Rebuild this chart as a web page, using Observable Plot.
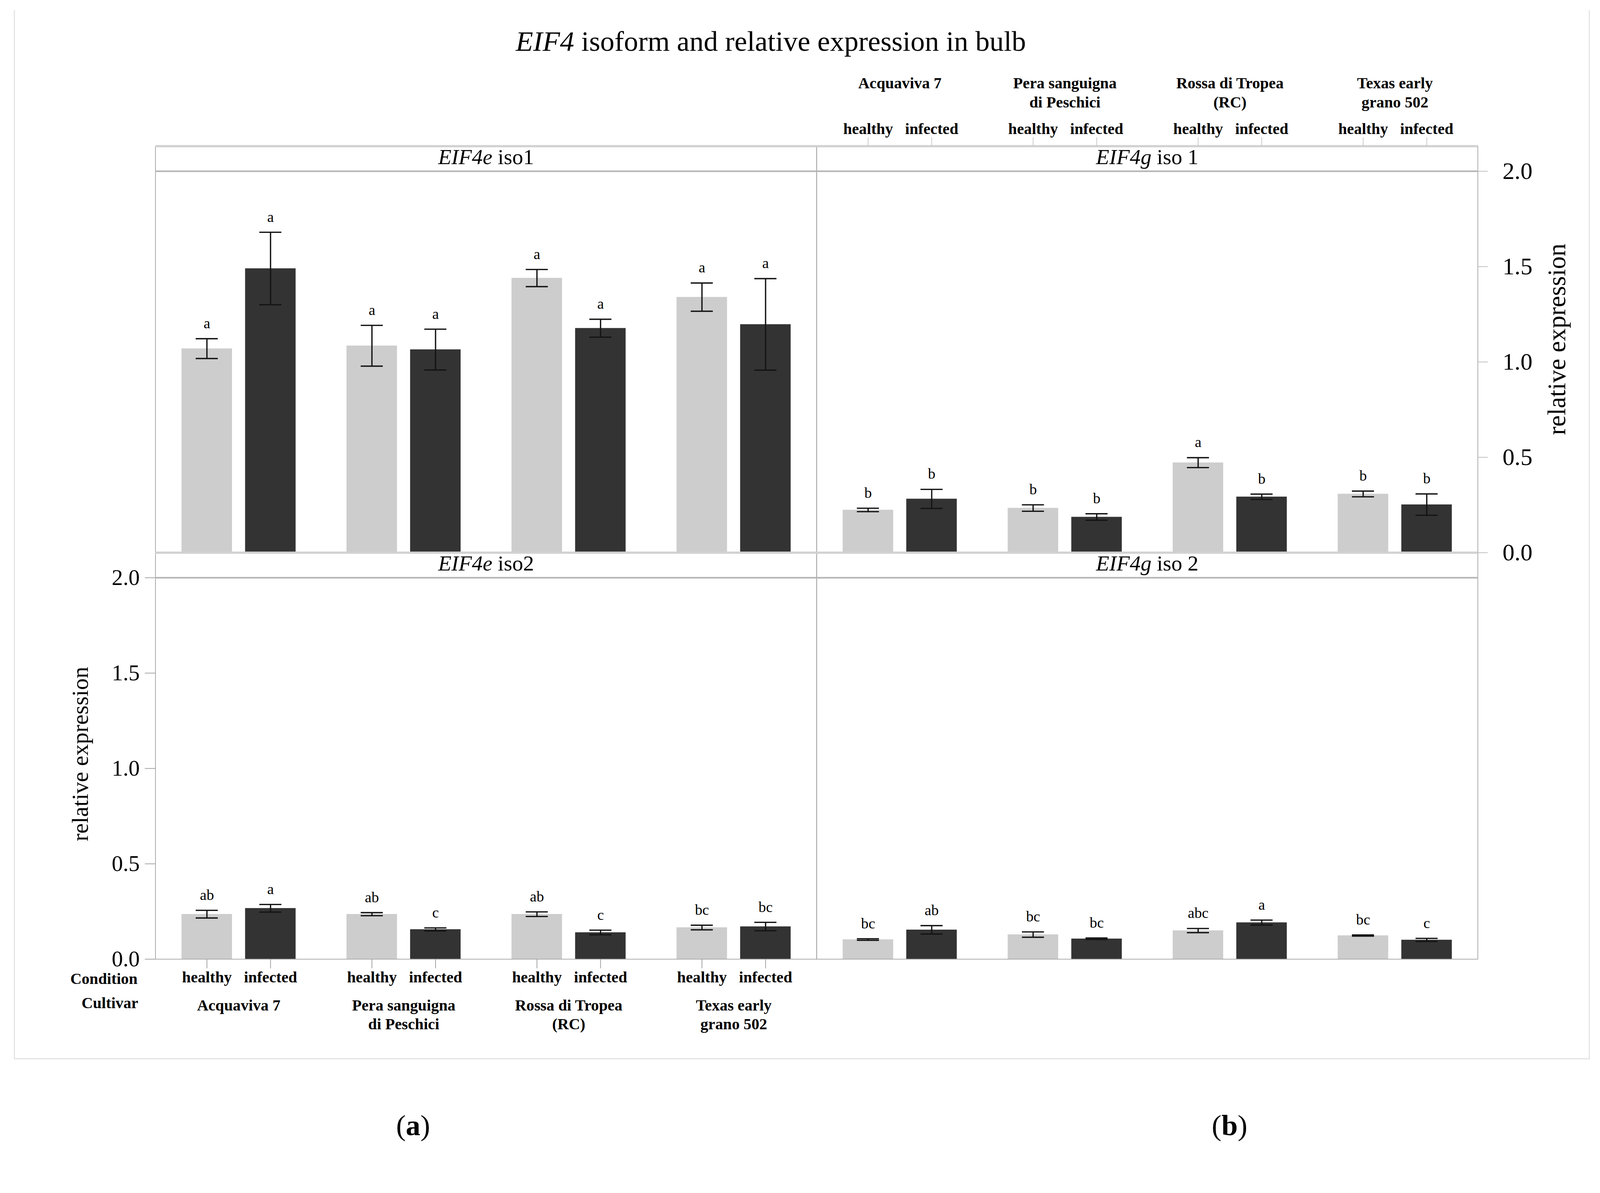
<!DOCTYPE html>
<html>
<head>
<meta charset="utf-8">
<script src="https://cdn.jsdelivr.net/npm/d3@7"></script>
<script src="https://cdn.jsdelivr.net/npm/@observablehq/plot@0.6"></script>
<style>
html, body { margin: 0; padding: 0; background: #fff; overflow: hidden; }
#wrap { position: relative; overflow: hidden; width: 4096px; height: 3053px; }
#page { position: absolute; left: 0; top: 0; width: 4276px; height: 3053px; transform-origin: 0 0; font-family: "Liberation Serif", "Times New Roman", serif; color: #000; overflow: hidden; background: #fff; }
#border { position: absolute; left: 37px; top: 27px; width: 4206px; height: 2800px; border: 3px solid #e3e3e3; border-top: none; }
#chart { position: absolute; left: 0; top: 0; }
#title { position: absolute; left: 0; width: 4120px; top: 72px; text-align: center; font-size: 76px; line-height: 1; white-space: nowrap; }
.sub { position: absolute; top: 2968px; width: 200px; text-align: center; font-size: 78px; line-height: 1; }
</style>
</head>
<body>
<div id="wrap">
<div id="page">
  <div id="border"></div>
  <div id="chart"></div>
  <div id="title"><i>EIF4</i> isoform and relative expression in bulb</div>
  <div class="sub" style="left:1004px">(<b>a</b>)</div>
  <div class="sub" style="left:3186px">(<b>b</b>)</div>
</div>
</div>
<script>
// ---------------- data ----------------
const cultivars = ["Acquaviva 7", "Pera sanguigna di Peschici", "Rossa di Tropea (RC)", "Texas early grano 502"];
const cultivarLabels = ["Acquaviva 7", "Pera sanguigna\ndi Peschici", "Rossa di Tropea\n(RC)", "Texas early\ngrano 502"];
const conditions = ["healthy", "infected"];
const genes = ["EIF4e", "EIF4g"];
const isoforms = ["iso1", "iso2"];

const panelGene = ["EIF4e", "EIF4g", "EIF4e", "EIF4g"];
const panelIso = ["iso1", "iso1", "iso2", "iso2"];
const panelTitles = ["EIF4e iso1", "EIF4g iso 1", "EIF4e iso2", "EIF4g iso 2"];

// order: Acquaviva healthy, infected, Pera healthy, infected, Rossa healthy, infected, Texas healthy, infected
const eif4eIso1Mean = [1.07, 1.49, 1.085, 1.065, 1.44, 1.177, 1.34, 1.197];
const eif4eIso1Err = [0.052, 0.19, 0.107, 0.107, 0.045, 0.047, 0.074, 0.24];
const eif4eIso1Letters = ["a", "a", "a", "a", "a", "a", "a", "a"];

const eif4gIso1Mean = [0.224, 0.282, 0.234, 0.187, 0.472, 0.293, 0.308, 0.252];
const eif4gIso1Err = [0.009, 0.05, 0.017, 0.017, 0.026, 0.014, 0.015, 0.056];
const eif4gIso1Letters = ["b", "b", "b", "b", "a", "b", "b", "b"];

const eif4eIso2Mean = [0.236, 0.267, 0.236, 0.156, 0.236, 0.140, 0.166, 0.171];
const eif4eIso2Err = [0.02, 0.02, 0.008, 0.008, 0.012, 0.012, 0.012, 0.022];
const eif4eIso2Letters = ["ab", "a", "ab", "c", "ab", "c", "bc", "bc"];

const eif4gIso2Mean = [0.103, 0.154, 0.129, 0.107, 0.150, 0.192, 0.124, 0.101];
const eif4gIso2Err = [0.004, 0.022, 0.014, 0.004, 0.011, 0.013, 0.003, 0.008];
const eif4gIso2Letters = ["bc", "ab", "bc", "bc", "abc", "a", "bc", "c"];

const yTicks = [0, 0.5, 1.0, 1.5, 2.0];

// ---------------- fit the 4276-wide design into the visible viewport ----------------
const viewW = Math.min(window.innerWidth || 4276, 4096);
const fit = viewW / 4276;
document.getElementById("wrap").style.width = viewW + "px";
document.getElementById("wrap").style.height = Math.round(3053 * fit) + "px";
document.getElementById("page").style.transform = `scale(${fit})`;

// ---------------- table ----------------
const means = [eif4eIso1Mean, eif4gIso1Mean, eif4eIso2Mean, eif4gIso2Mean];
const errs = [eif4eIso1Err, eif4gIso1Err, eif4eIso2Err, eif4gIso2Err];
const letters = [eif4eIso1Letters, eif4gIso1Letters, eif4eIso2Letters, eif4gIso2Letters];

const rows = [];
panelTitles.forEach((t, p) => {
  cultivars.forEach((c, i) => {
    conditions.forEach((k, j) => {
      const n = i * 2 + j;
      rows.push({gene: panelGene[p], iso: panelIso[p], cultivar: c, condition: k,
                 mean: means[p][n], err: errs[p][n], letter: letters[p][n]});
    });
  });
});
const headers = panelTitles.map((t, p) => ({gene: panelGene[p], iso: panelIso[p], label: t}));
const topCultivars = cultivars.map((c, i) => ({gene: "EIF4g", iso: "iso1", cultivar: c, label: cultivarLabels[i]}));
const bottomCultivars = cultivars.map((c, i) => ({gene: "EIF4e", iso: "iso2", cultivar: c, label: cultivarLabels[i]}));

// ---------------- marks ----------------
const OFF = 85;
function conditionMarks(cond, sign) {
  const d = rows.filter(r => r.condition === cond);
  const barIn = sign < 0 ? {insetLeft: 68, insetRight: 238} : {insetLeft: 238, insetRight: 68};
  const capIn = sign < 0 ? {insetLeft: 106, insetRight: 276} : {insetLeft: 276, insetRight: 106};
  const ebar = {stroke: "#141414", strokeWidth: 3.5};
  return [
    Plot.barY(d, {fx: "gene", fy: "iso", x: "cultivar", y1: 0, y2: "mean",
      fill: cond === "healthy" ? "#cdcdcd" : "#333333", ...barIn}),
    Plot.ruleX(d, {fx: "gene", fy: "iso", x: "cultivar", y1: r => r.mean - r.err, y2: r => r.mean + r.err,
      dx: sign * OFF, ...ebar}),
    Plot.tickY(d, {fx: "gene", fy: "iso", x: "cultivar", y: r => r.mean + r.err, ...capIn, ...ebar}),
    Plot.tickY(d, {fx: "gene", fy: "iso", x: "cultivar", y: r => r.mean - r.err, ...capIn, ...ebar}),
    Plot.text(d, {fx: "gene", fy: "iso", x: "cultivar", y: r => r.mean + r.err, text: "letter",
      dx: sign * OFF, dy: -28, lineAnchor: "bottom", fontSize: 40})
  ];
}

const fmt = d3.format(".1f");
const bold = {fontSize: 42, fontWeight: "bold"};

const chart = Plot.plot({
  width: 4276,
  height: 2900,
  marginTop: 389, marginRight: 327, marginBottom: 338, marginLeft: 414,
  style: {fontFamily: "'Liberation Serif','Times New Roman',serif", fontSize: "42px", background: "transparent", color: "#000", overflow: "visible", maxWidth: "none"},
  facet: {marginTop: 0, marginRight: 0, marginBottom: 0, marginLeft: 0},
  fx: {domain: genes, padding: 0, axis: null},
  fy: {domain: isoforms, padding: 0, axis: null},
  x: {domain: cultivars, padding: 0, label: null},
  y: {domain: [0, 2], insetTop: 67, label: null},
  marks: [
    ...conditionMarks("healthy", -1),
    ...conditionMarks("infected", +1),
    Plot.frame({stroke: "#a8a8a8", strokeWidth: 2}),
    Plot.ruleY([2], {stroke: "#b4b4b4", strokeWidth: 4}),
    Plot.ruleY([2], {dy: -67, stroke: "#d2d2d2", strokeWidth: 6}),
    Plot.text(headers, {fx: "gene", fy: "iso", text: "label", frameAnchor: "top", dy: 48,
      lineAnchor: "bottom", fontSize: 58}),

    // y axes
    Plot.axisY(yTicks, {anchor: "right", facetAnchor: "top-right", tickSize: 26, tickPadding: 40,
      tickFormat: fmt, fontSize: 64, stroke: "#bdbdbd", strokeWidth: 2, label: null}),
    Plot.axisY(yTicks, {anchor: "left", facetAnchor: "bottom-left", tickSize: 28, tickPadding: 14,
      tickFormat: fmt, fontSize: 60, stroke: "#a0a0a0", strokeWidth: 2, label: null}),
    Plot.text([{gene: "EIF4g", iso: "iso1", label: "relative expression"}], {fx: "gene", fy: "iso", text: "label",
      frameAnchor: "right", textAnchor: "middle", rotate: -90, dx: 212, dy: -27, fontSize: 68}),
    Plot.text([{gene: "EIF4e", iso: "iso2", label: "relative expression"}], {fx: "gene", fy: "iso", text: "label",
      frameAnchor: "left", textAnchor: "middle", rotate: -90, dx: -200, dy: -5, fontSize: 62}),

    // x axes: condition ticks and labels
    Plot.axisX({anchor: "bottom", facetAnchor: "bottom-left", dx: -OFF, tickSize: 25, tickPadding: 7,
      tickFormat: () => conditions[0], stroke: "#a0a0a0", strokeWidth: 2, label: null, ...bold}),
    Plot.axisX({anchor: "bottom", facetAnchor: "bottom-left", dx: OFF, tickSize: 25, tickPadding: 7,
      tickFormat: () => conditions[1], stroke: "#a0a0a0", strokeWidth: 2, label: null, ...bold}),
    Plot.axisX({anchor: "top", facetAnchor: "top-right", dx: -OFF, tickSize: 24, tickPadding: 8,
      tickFormat: () => conditions[0], stroke: "#c8c8c8", strokeWidth: 2, label: null, ...bold}),
    Plot.axisX({anchor: "top", facetAnchor: "top-right", dx: OFF, tickSize: 24, tickPadding: 8,
      tickFormat: () => conditions[1], stroke: "#c8c8c8", strokeWidth: 2, label: null, ...bold}),

    // cultivar labels
    Plot.text(bottomCultivars, {fx: "gene", fy: "iso", x: "cultivar", text: "label", frameAnchor: "bottom",
      lineAnchor: "top", dy: 101, lineHeight: 1.2, ...bold}),
    Plot.text(topCultivars, {fx: "gene", fy: "iso", x: "cultivar", text: "label", frameAnchor: "top",
      lineAnchor: "top", dy: -190, lineHeight: 1.2, ...bold}),
    Plot.text([{gene: "EIF4e", iso: "iso2", label: "Condition"}], {fx: "gene", fy: "iso", text: "label",
      frameAnchor: "bottom-left", textAnchor: "end", lineAnchor: "bottom", dx: -48, dy: 66, ...bold}),
    Plot.text([{gene: "EIF4e", iso: "iso2", label: "Cultivar"}], {fx: "gene", fy: "iso", text: "label",
      frameAnchor: "bottom-left", textAnchor: "end", lineAnchor: "bottom", dx: -46, dy: 131, ...bold})
  ]
});

// italic gene name inside panel headers
d3.select(chart).selectAll("text")
  .filter(function () { return panelTitles.includes(this.textContent); })
  .each(function () {
    const t = this.textContent;
    const sp = t.indexOf(" ");
    const sel = d3.select(this);
    sel.text(null);
    sel.append("tspan").attr("font-style", "italic").text(t.slice(0, sp));
    sel.append("tspan").text(t.slice(sp));
  });

document.getElementById("chart").appendChild(chart);
</script>
</body>
</html>
